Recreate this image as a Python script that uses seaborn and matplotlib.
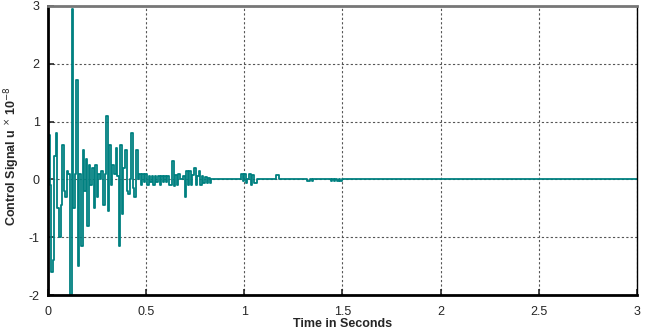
import numpy as np
import pandas as pd
import matplotlib
matplotlib.use('Agg')
import matplotlib.pyplot as plt
import seaborn as sns

# %%
# Control signal samples (units of 1e-8), zero-order hold, sample time dt
dt = 0.008
t_end = 3.0
u = [
    0.77, -0.1, -1.6, -1.4, 0.4, 0.8, -0.5, -1.0, -0.45, 0.6,
    -0.2, -0.3, 0.15, 0.1, -2.0, 2.95, -0.5, 0.1, 1.72, -1.5,
    0.1, -1.15, 0.5, -0.2, 0.35, -0.8, 0.25, -0.1, 0.2, -0.5,
    0.25, -0.3, 0.1, 0.0, 0.15, -0.45, 0.1, 1.1, -0.55, 0.6,
    -0.1, 0.25, 0.1, 0.55, 0.05, -1.15, 0.6, -0.6, 0.2, 0.5,
    -0.2, -0.25, 0.0, 0.8, -0.15, -0.3, 0.5, 0.0, 0.1, -0.1,
    0.1, -0.05, 0.1, -0.1, 0.05, -0.05, 0.05, -0.1, 0.05, -0.05,
    0.05, -0.1, 0.05, -0.05, 0.05, -0.05, 0.05, -0.1, -0.1, 0.32,
    -0.12, 0.08, -0.1, 0.1, 0.0, 0.0, 0.05, -0.31, 0.14, -0.1,
    0.14, -0.1, 0.07, 0.2, -0.1, 0.05, 0.15, -0.1, 0.05, -0.07,
    0.04, -0.07, 0.03, -0.07, 0.0, 0.0, 0.0, 0.0, 0.0, 0.0,
    0.0, 0.0, 0.0, 0.0, 0.0, 0.0, 0.0, 0.0, 0.0, 0.0,
    0.0, 0.0, 0.0, 0.09, -0.03, 0.09, -0.07, 0.0, 0.1, -0.1,
    0.08, -0.07, -0.07, 0.0, 0.0, 0.0, 0.0, 0.0, 0.0, 0.0,
    0.0, 0.0, 0.0, 0.0, 0.0, 0.08, 0.08, 0.0, 0.0, 0.0,
    0.0, 0.0, 0.0, 0.0, 0.0, 0.0, 0.0, 0.0, 0.0, 0.0,
    0.0, 0.0, 0.0, 0.0, 0.0, -0.02, -0.02, 0.01, -0.02, 0.0,
    0.0, 0.0, 0.0, 0.0, 0.0, 0.0, 0.0, 0.0, 0.0, 0.0,
    -0.02, 0.01, -0.02, 0.01, -0.02, 0.01, -0.02, 0.0,
]

x_ticks = [0, 0.5, 1, 1.5, 2, 2.5, 3]
x_tick_labels = ['0', '0.5', '1', '1.5', '2', '2.5', '3']
y_ticks = [-2, -1, 0, 1, 2, 3]

t = np.arange(len(u)) * dt
df = pd.DataFrame({'time': np.append(t, t_end), 'u': np.append(u, 0.0)})

# %%
sns.set_style('white')
plt.rcParams['font.family'] = ['Liberation Sans', 'DejaVu Sans']
plt.rcParams['axes.unicode_minus'] = False

fig = plt.figure(figsize=(6.51, 3.30), dpi=100)
ax = fig.add_axes([0.0737, 0.106, 0.9048, 0.876])

sns.lineplot(data=df, x='time', y='u', ax=ax, color='#008080',
             linewidth=1.3, drawstyle='steps-post')

ax.set_xlim(0, 3)
ax.set_ylim(-2, 3)
ax.set_xticks(x_ticks)
ax.set_xticklabels(x_tick_labels)
ax.set_yticks(y_ticks)
ax.grid(True, linestyle=(0, (2, 2)), color='#555555', linewidth=0.8)
ax.tick_params(direction='in', length=4, width=1.2, labelsize=9,
               bottom=True, left=True)
ax.tick_params(axis='x', pad=8)
ax.tick_params(axis='y', pad=6)

for side in ['left', 'bottom']:
    ax.spines[side].set_color('black')
    ax.spines[side].set_linewidth(2)
ax.spines['right'].set_color('black')
ax.spines['right'].set_linewidth(1)
ax.spines['top'].set_color('#777777')
ax.spines['top'].set_linewidth(2)

ax.set_xlabel('Time in Seconds', fontsize=9, fontweight='bold', labelpad=0)
ax.set_ylabel(r'Control Signal u $^{\times}$ 10$^{-8}$', fontsize=9,
              fontweight='bold')
ax.yaxis.set_label_coords(-0.044, 0.48)

plt.savefig('out.png', dpi=100)
plt.close()
